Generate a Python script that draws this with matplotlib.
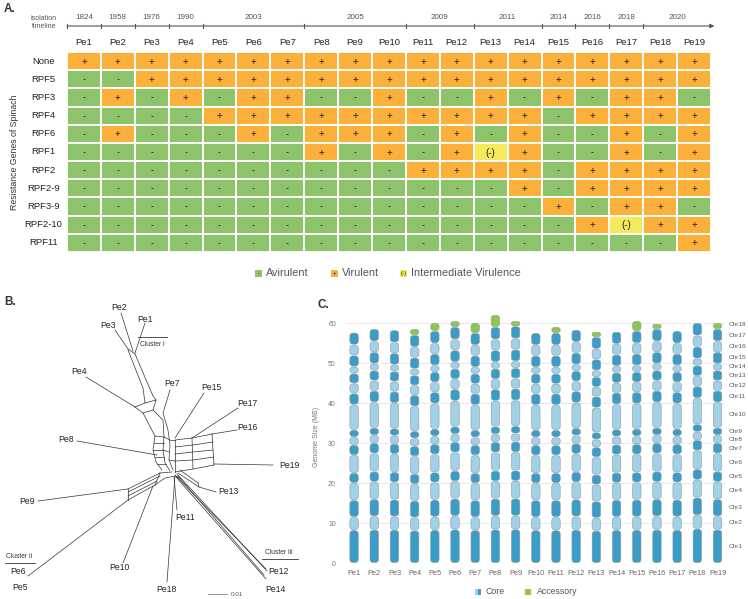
import matplotlib
matplotlib.use("Agg")
import matplotlib.pyplot as plt
from matplotlib.patches import Rectangle, FancyBboxPatch

plt.rcParams['font.family'] = ['Liberation Sans', 'DejaVu Sans']

# ---------------- data ----------------
isolates = [f"Pe{i}" for i in range(1, 20)]
years = [1824, 1958, 1976, 1990, 2003, 2003, 2003, 2005, 2005, 2005,
         2009, 2009, 2011, 2011, 2014, 2016, 2018, 2020, 2020]
genes = ["None", "RPF5", "RPF3", "RPF4", "RPF6", "RPF1", "RPF2",
         "RPF2-9", "RPF3-9", "RPF2-10", "RPF11"]
# + virulent, - avirulent, i intermediate
reactions = [
    "+++++++++++++++++++",
    "--+++++++++++++++++",
    "-+-+-++--+--+-+-++-",
    "----++++++++++-++++",
    "-+---+-+++-+-+--+-+",
    "-------+-+-+i+--+-+",
    "----------++++-++++",
    "-------------+-++++",
    "--------------+-++-",
    "---------------+i++",
    "------------------+",
]

# chromosome sizes (MB) of a typical isolate, Chr1..Chr17
chrom_sizes = [8.2, 3.3, 4.2, 4.3, 2.5, 4.5, 2.5, 2.0, 1.8, 6.3,
               2.8, 2.5, 2.5, 1.7, 2.8, 2.7, 3.0]
core_totals = [57.6, 58.5, 58.2, 57.0, 58.0, 59.0, 57.5, 59.0, 59.2, 57.5,
               57.5, 58.3, 56.5, 57.8, 58.0, 58.5, 58.0, 60.0, 58.5]
accessory = [0, 0, 0, 1.5, 2.0, 1.5, 2.5, 3.0, 1.3, 0,
             1.5, 0, 1.3, 0, 2.5, 1.3, 0, 0, 1.5]

# splits network (panel B), in panel pixel units
net_lines = [
    [(121, 313), (133, 351)], [(145, 323), (135, 353)], [(115, 330), (128, 349)],
    [(128, 349), (135, 354)],
    [(128, 350), (143, 388), (145, 403)], [(135, 354), (153, 396), (156, 400)],
    [(86, 377), (135, 407)],
    [(135, 407), (145, 403), (156, 400)], [(135, 407), (143, 413), (153, 410), (156, 400)],
    [(143, 413), (155, 436), (153, 450), (156, 462), (162, 470)],
    [(153, 410), (163, 420), (164, 437), (163, 450), (165, 463), (170, 471)],
    [(155, 436), (164, 437)], [(154, 443), (164, 443)], [(153, 450), (163, 450)],
    [(155, 457), (164, 457)], [(157, 464), (166, 464)],
    [(170, 390), (163, 413), (168, 430), (170, 445), (169, 460), (173, 470)],
    [(164, 437), (170, 440)], [(163, 450), (169, 452)],
    [(204, 393), (175, 438)], [(238, 408), (192, 438)], [(237, 430), (212, 434)],
    [(273, 465), (214, 464)],
    [(175, 440), (175, 472)], [(192, 438), (193, 469)], [(212, 434), (214, 465)],
    [(175, 440), (192, 438), (212, 434)], [(175, 447), (193, 445), (213, 442)],
    [(175, 454), (193, 452), (213, 450)], [(175, 461), (193, 460), (214, 457)],
    [(175, 472), (193, 469), (214, 465)],
    [(170, 440), (175, 440)], [(169, 460), (175, 461)],
    [(77, 441), (157, 455)],
    [(38, 501), (128, 489)], [(28, 576), (128, 500)],
    [(128, 489), (160, 473)], [(128, 492), (160, 476)], [(128, 496), (157, 481)],
    [(128, 500), (155, 485)], [(128, 489), (128, 500)], [(160, 473), (155, 485)],
    [(160, 473), (172, 472)], [(155, 485), (165, 478), (176, 476), (181, 479)],
    [(123, 563), (153, 486)],
    [(167, 582), (175, 476)], [(177, 510), (174, 477)],
    [(216, 492), (199, 487), (178, 473)], [(198, 483), (180, 470)], [(199, 487), (198, 483)],
    [(175, 475), (266, 569)], [(177, 474), (267, 571)], [(178, 476), (264, 575)],
    [(176, 477), (266, 579)],
]
net_labels = {
    "Pe2": (119, 308), "Pe1": (145, 319), "Pe3": (108, 326), "Pe4": (79, 372),
    "Pe7": (172, 384), "Pe15": (211, 387), "Pe17": (247, 404), "Pe16": (247, 427),
    "Pe8": (66, 440), "Pe19": (289, 465), "Pe13": (228, 492), "Pe9": (27, 501),
    "Pe11": (185, 517), "Pe6": (18, 572), "Pe5": (20, 587), "Pe10": (119, 567),
    "Pe18": (166, 590), "Pe12": (278, 572), "Pe14": (275, 590),
}

green = "#8dc36b"
orange = "#fbb03b"
yellow = "#f4ea5c"
dark_blue = "#3a9dc8"
light_blue = "#a0d1e6"
acc_green = "#8cc653"

W, H = 748, 599
fig = plt.figure(figsize=(W / 100, H / 100), dpi=100)

# overlay axes in pixel units
ov = fig.add_axes([0, 0, 1, 1])
ov.set_xlim(0, W)
ov.set_ylim(H, 0)
ov.axis("off")

def fpos(x0, y0, x1, y1):
    return [x0 / W, 1 - y1 / H, (x1 - x0) / W, (y1 - y0) / H]

# ---------------- panel A ----------------
ax = fig.add_axes(fpos(67, 52, 711, 252))
ax.set_xlim(0, 19)
ax.set_ylim(11, 0)
ax.axis("off")
cmap = {"+": orange, "-": green, "i": yellow}
sym = {"+": "+", "-": "-", "i": "(-)"}
for r, row in enumerate(reactions):
    for c, v in enumerate(row):
        ax.add_patch(Rectangle((c, r), 1, 1, facecolor=cmap[v],
                               edgecolor="white", lw=1.3))
        ax.text(c + 0.5, r + 0.53, sym[v], ha="center", va="center",
                fontsize=7 if v != "-" else 6.5, color="#222")
    ax.text(-0.69, r + 0.5, genes[r], ha="center", va="center",
            fontsize=6.8, color="#222")
for c, name in enumerate(isolates):
    ax.text(c + 0.5, -0.5, name, ha="center", va="center", fontsize=6.8, color="#222")

# timeline
ty = -1.43
ax.annotate("", xy=(19.1, ty), xytext=(0, ty), annotation_clip=False,
            arrowprops=dict(arrowstyle="-|>", color="#555", lw=0.8,
                            mutation_scale=6, shrinkA=0, shrinkB=0))
groups = []
start = 0
for i in range(1, len(years) + 1):
    if i == len(years) or years[i] != years[start]:
        groups.append((start, i, years[start]))
        start = i
for s, e, yv in groups:
    ax.plot([s, s], [ty - 0.12, ty + 0.12], color="#555", lw=0.8, clip_on=False)
    ax.text((s + e) / 2, ty - 0.45, str(yv), ha="center", va="center",
            fontsize=5.8, color="#555")
ov.text(44, 18, "isolation", ha="center", va="center", fontsize=5, color="#555")
ov.text(44, 27, "timeline", ha="center", va="center", fontsize=5, color="#555")
ov.text(15, 152, "Resistance Genes of Spinach", rotation=90, ha="center",
        va="center", fontsize=6.3, color="#333")
ov.text(4, 9, "A.", fontsize=8.5, fontweight="bold", va="center", color="#333")

# legend A
for x0, col, s, lab in [(255, green, "-", "Avirulent"), (331, orange, "+", "Virulent"),
                        (400, yellow, "(-)", "Intermediate Virulence")]:
    ov.add_patch(Rectangle((x0, 270), 7, 7, facecolor=col, edgecolor="none"))
    ov.text(x0 + 3.5, 273.5, s, ha="center", va="center", fontsize=4.5, color="#222")
    ov.text(x0 + 11, 273.5, lab, ha="left", va="center", fontsize=7.8, color="#555")

# ---------------- panel B ----------------
ov.text(4, 302, "B.", fontsize=8.5, fontweight="bold", va="center", color="#333")
for line in net_lines:
    xs = [p[0] for p in line]
    ys = [p[1] for p in line]
    ov.plot(xs, ys, color="#333", lw=0.5)
for name, (x, y) in net_labels.items():
    ov.text(x, y, name, ha="center", va="center", fontsize=6.2, color="#222")
ov.text(140, 344, "Cluster i", fontsize=4.8, va="center", color="#333")
ov.plot([138, 167], [337, 337], color="#333", lw=0.6)
ov.text(6, 557, "Cluster ii", fontsize=4.8, va="center", color="#333")
ov.plot([5, 35], [563, 563], color="#333", lw=0.6)
ov.text(265, 553, "Cluster iii", fontsize=4.8, va="center", color="#333")
ov.plot([262, 298], [559, 559], color="#333", lw=0.6)
ov.plot([208, 227], [594, 594], color="#888", lw=0.6)
ov.text(231, 594, "0.01", fontsize=4.5, va="center", color="#555")

# ---------------- panel C ----------------
axc = fig.add_axes(fpos(347, 311, 725, 563))
axc.set_xlim(-0.35, 18.37)
axc.set_ylim(0, 63)
for s in axc.spines.values():
    s.set_visible(False)
axc.set_yticks(range(0, 61, 10))
axc.tick_params(axis="y", length=0, labelsize=5, labelcolor="#777", pad=8)
axc.set_xticks(range(19))
axc.set_xticklabels(isolates)
axc.tick_params(axis="x", length=0, labelsize=5.3, labelcolor="#666", pad=5)
axc.grid(axis="y", color="#e4e4e4", lw=0.6)
axc.set_axisbelow(True)
axc.set_ylabel("Genome Size (MB)", fontsize=5, color="#777", labelpad=6)

bw = 0.42
asp = (378 / 18.72) / (252 / 63)
base_total = sum(chrom_sizes)

def chrom(x, y0, h, col):
    g = 0.12
    rs = min(0.16, bw / 2, (h - 2 * g) / 2 / asp)
    axc.add_patch(FancyBboxPatch((x - bw / 2, y0 + g), bw, h - 2 * g,
                                 boxstyle=f"round,pad=0,rounding_size={rs}",
                                 mutation_aspect=asp, facecolor=col,
                                 edgecolor="#999", lw=0.4, clip_on=False))

label_pos = []
for i in range(19):
    sc = core_totals[i] / base_total
    y = 0.0
    mids = []
    for k, s in enumerate(chrom_sizes):
        h = s * sc
        chrom(i, y, h, dark_blue if k % 2 == 0 else light_blue)
        mids.append(y + h / 2)
        y += h
    if accessory[i] > 0:
        chrom(i, y, accessory[i], acc_green)
    mids.append(y + 1.0)
    if i == 18:
        label_pos = mids
for k, yv in enumerate(label_pos):
    axc.text(18.55, yv, f"Chr{k + 1}", fontsize=4.6, color="#555",
             va="center", ha="left", clip_on=False)

ov.text(318, 305, "C.", fontsize=8.5, fontweight="bold", va="center", color="#333")
# legend C
ov.add_patch(Rectangle((475, 589), 3, 6, facecolor=light_blue, edgecolor="none"))
ov.add_patch(Rectangle((478, 589), 3, 6, facecolor=dark_blue, edgecolor="none"))
ov.text(486, 592, "Core", fontsize=6.3, va="center", color="#555")
ov.add_patch(Rectangle((525, 589), 6, 6, facecolor=acc_green, edgecolor="none"))
ov.text(537, 592, "Accessory", fontsize=6.3, va="center", color="#555")

fig.savefig("out.png", dpi=100)
